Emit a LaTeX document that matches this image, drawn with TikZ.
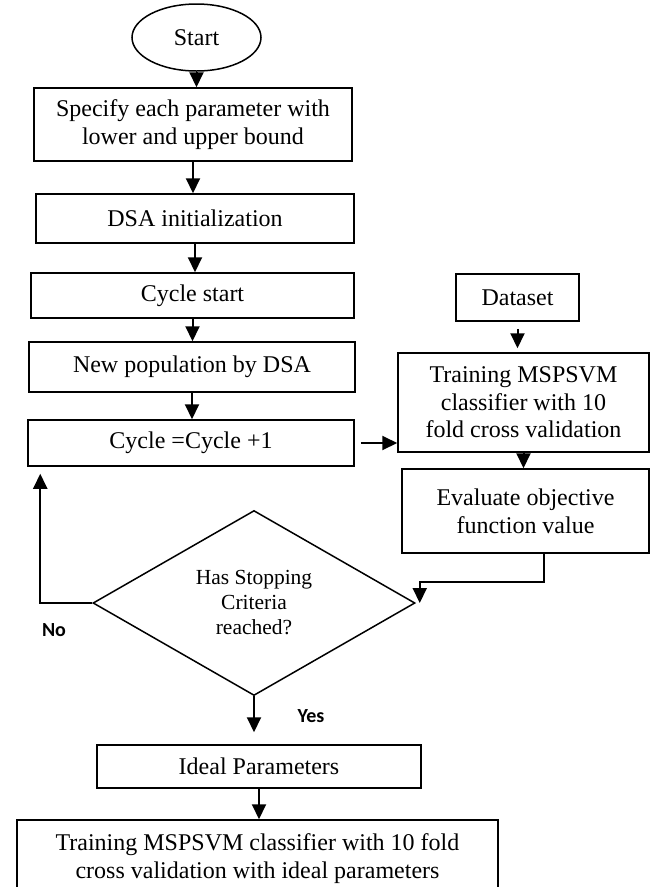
\documentclass[tikz,border=0pt]{standalone}
\usepackage{fontspec}
\setmainfont{Liberation Serif}
\newfontfamily\labelfont{Carlito}
\usepackage{tikz}
\usetikzlibrary{shapes.geometric,arrows.meta}
\tikzstyle{block}=[rectangle, draw=black, line width=1.5pt, inner sep=0pt, align=center, font=\fontsize{24}{27.6}\selectfont]
\tikzstyle{term} = [block, ellipse]
\tikzstyle{decision} = [block, diamond, shape aspect=1.74, font=\fontsize{21.5}{25}\selectfont]
\tikzstyle{answer} = [inner sep=0pt, font=\labelfont\bfseries\fontsize{20}{24}\selectfont]
\tikzstyle{edge} = [draw, line width=2pt, -{Triangle[width=14pt,length=15pt]}, black]

\begin{document}
\begin{tikzpicture}[x=1pt, y=-1pt]
				\clip (0,0) rectangle (654,887);

				\node[term, minimum width=129pt, minimum height=67pt] (b_1) at (196.5, 37.5) {Start};
				\node[block, minimum width=318pt, minimum height=73pt] (b_2) at (193, 124.5) {Specify each parameter with\\lower and upper bound};
				\node[block, minimum width=318pt, minimum height=49pt] (b_3) at (195, 218.5) {DSA initialization};
				\node[block, minimum width=323pt, minimum height=45pt] (b_4) at (192.5, 295.5) {Cycle start};
				\node[block, minimum width=326pt, minimum height=50pt] (b_5) at (192, 367) {New population by DSA};
				\node[block, minimum width=326pt, minimum height=46pt] (b_6) at (191, 443) {Cycle =Cycle +1};

				\node[block, minimum width=123pt, minimum height=47pt] (r_1) at (517.5, 297.5) {Dataset};
				\node[block, minimum width=251pt, minimum height=99pt] (r_2) at (523.5, 402.5) {Training MSPSVM\\classifier with 10\\fold cross validation};
				\node[block, minimum width=247pt, minimum height=84pt] (r_3) at (525.5, 511) {Evaluate objective\\function value};

				\node[decision, minimum width=322pt, minimum height=185pt] (d_1) at (254, 603) {Has Stopping\\Criteria\\reached?};
				\node[answer] (n_1) at (54, 630) {No};
				\node[answer] (n_2) at (311, 716) {Yes};

				\node[block, minimum width=324pt, minimum height=43pt] (b_7) at (259, 766.5) {Ideal Parameters};
				\node[block, minimum width=481pt, minimum height=77pt] (b_8) at (257.5, 858.5) {Training MSPSVM classifier with 10 fold\\cross validation with ideal parameters};

				\draw[edge] (b_1.south) -- (b_1.south |- b_2.north);
				\draw[edge] (b_2.south) -- (b_2.south |- b_3.north);
				\draw[edge] (b_3.south) -- (b_3.south |- b_4.north);
				\draw[edge] (b_4.south) -- (b_4.south |- b_5.north);
				\draw[edge] (b_5.south) -- (b_5.south |- b_6.north);
				\draw[edge, shorten <=6pt] (b_6.east) -- (b_6.east -| r_2.west);

				\draw[edge, shorten <=7pt, shorten >=4pt] (r_1.south) -- (r_1.south |- r_2.north);
				\draw[edge] (r_2.south) -- (r_2.south |- r_3.north);
				\draw[edge] ([xshift=18.5pt]r_3.south) -- ++(0,28) -| ([xshift=4pt]d_1.east);

				\draw[edge, shorten >=7pt] (d_1.west) -| ([xshift=13pt]b_6.south west);
				\draw[edge, shorten >=12pt] (d_1.south) -- (d_1.south |- b_7.north);
				\draw[edge] (b_7.south) -- (b_7.south |- b_8.north);
			\end{tikzpicture}
\end{document}
